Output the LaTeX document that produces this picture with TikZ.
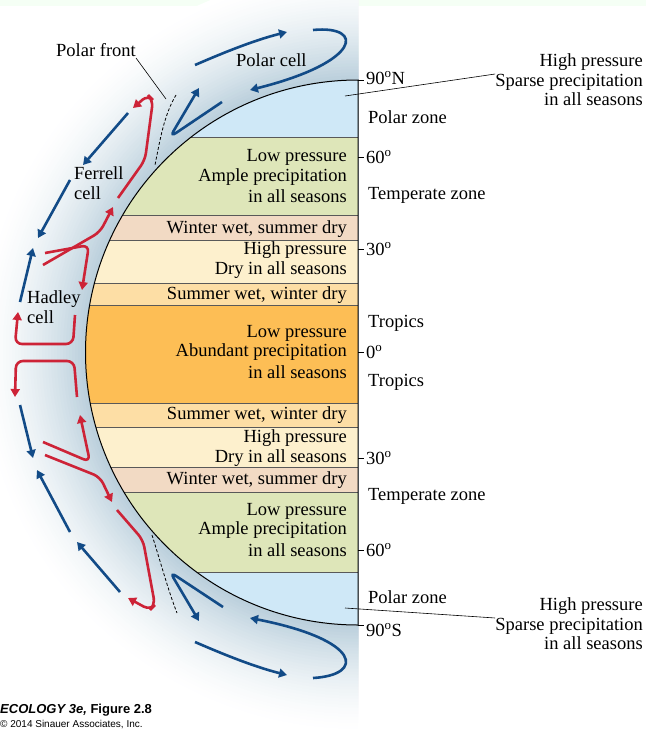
\documentclass[tikz,border=0pt]{standalone}
\usepackage{fontspec}
\setmainfont{Liberation Serif}
\setsansfont{Liberation Sans}
\usetikzlibrary{arrows.meta}
\definecolor{polarc}{RGB}{207,232,247}
\definecolor{tempc}{RGB}{222,230,185}
\definecolor{wintc}{RGB}{242,218,196}
\definecolor{highc}{RGB}{253,240,205}
\definecolor{sumc}{RGB}{253,222,165}
\definecolor{tropc}{RGB}{253,190,85}
\definecolor{atmoc}{RGB}{178,202,216}
\definecolor{windblue}{RGB}{18,75,135}
\definecolor{windred}{RGB}{205,35,55}
\tikzset{
  lbl/.style={font=\fontsize{18.5}{19.5}\selectfont, inner sep=0pt},
  band/.style={lbl, anchor=east, align=right},
  zone/.style={lbl, anchor=west},
  wind/.style={line width=2.6pt, rounded corners=7pt, -{Triangle[length=8pt,width=9pt]}},
  bwind/.style={wind, windblue},
  rwind/.style={wind, windred},
  front/.style={densely dashed, line width=0.8pt},
  tick/.style={line width=0.8pt}
}
\newcommand{\dg}{\textsuperscript{o}}
\begin{document}
\begin{tikzpicture}[x=1pt,y=-1pt]
\useasboundingbox (0,0) rectangle (646,731);
\fill[green!4] (0,0) rectangle (646,6);
% atmosphere
\begin{scope}
  \clip (0,0) rectangle (358,731);
  \foreach \i in {0,...,36}
    \fill[atmoc!\fpeval{(\i/36)^1.6*90}!white] (358,352.5) circle[radius=\fpeval{382-\i*3}];
  \fill[white] (358,352.5) circle[radius=272.5];
  \clip (358,352.5) circle[radius=272.5];
  \fill[polarc] (80,80) rectangle (358,137);
  \fill[tempc] (80,137) rectangle (358,215);
  \fill[wintc] (80,215) rectangle (358,240);
  \fill[highc] (80,240) rectangle (358,283);
  \fill[sumc] (80,283) rectangle (358,305);
  \fill[tropc] (80,305) rectangle (358,403);
  \fill[sumc] (80,403) rectangle (358,427);
  \fill[highc] (80,427) rectangle (358,467);
  \fill[wintc] (80,467) rectangle (358,492);
  \fill[tempc] (80,492) rectangle (358,572);
  \fill[polarc] (80,572) rectangle (358,625);
  \foreach \y in {137,215,240,283,305,403,427,467,492,572}
    \draw[gray!70!black, line width=0.5pt] (80,\y) -- (358,\y);
\end{scope}
\draw[line width=1pt] (358,80) arc[start angle=-90,end angle=-270,radius=272.5] -- cycle;
\foreach \y in {80,157,249,352,458,550,625}
  \draw[tick] (358,\y) -- (364,\y);

% band texts
\node[band] (n60a) at (347,157) {Low pressure};
\node[band] at (347,177) {Ample precipitation};
\node[band] at (347,196) {in all seasons};
\node[band] at (347,229) {Winter wet, summer dry};
\node[band] (n30a) at (347,250) {High pressure};
\node[band] at (347,270) {Dry in all seasons};
\node[band] at (347,295) {Summer wet, winter dry};
\node[band] at (347,333) {Low pressure};
\node[band] (n0) at (347,352) {Abundant precipitation};
\node[band] at (347,372) {in all seasons};
\node[band] at (347,415) {Summer wet, winter dry};
\node[band] at (347,438) {High pressure};
\node[band] (n30b) at (347,458) {Dry in all seasons};
\node[band] at (347,480) {Winter wet, summer dry};
\node[band] at (347,511) {Low pressure};
\node[band] at (347,530) {Ample precipitation};
\node[band] (n60b) at (347,550) {in all seasons};

% zones and latitudes
\node[zone] at (366,78) {90\dg N};
\node[zone] at (368,117) {Polar zone};
\node[zone] at (366,157) {60\dg};
\node[zone] at (368,195) {Temperate zone};
\node[zone] at (366,249) {30\dg};
\node[zone] at (368,323) {Tropics};
\node[zone] at (366,352) {0\dg};
\node[zone] at (368,382) {Tropics};
\node[zone] at (366,458) {30\dg};
\node[zone] at (368,496) {Temperate zone};
\node[zone] at (366,550) {60\dg};
\node[zone] at (368,597) {Polar zone};
\node[zone] at (366,630) {90\dg S};

% pressure notes
\node[lbl, anchor=east, align=right] (hpn) at (643,80) {High pressure\\Sparse precipitation\\in all seasons};
\node[lbl, anchor=east, align=right] (hps) at (643,624) {High pressure\\Sparse precipitation\\in all seasons};
\coordinate (pn) at (345,96);
\coordinate (ps) at (345,608);
\draw[line width=0.6pt] (pn) -- (hpn.west |- 0,74);
\draw[line width=0.6pt] (ps) -- (hps.west |- 0,618);

% cell labels
\node[lbl, anchor=west] (pf) at (56,50) {Polar front};
\node[lbl, anchor=west] at (236,60) {Polar cell};
\node[lbl, anchor=west, align=left] at (74,183) {Ferrell\\cell};
\node[lbl, anchor=west, align=left] at (27,307) {Hadley\\cell};
\coordinate (pft) at (166,99);
\draw[line width=0.6pt] (136,58) -- (pft);

% polar fronts
\draw[front] (176,95) .. controls (164,115) and (160,140) .. (155,165);
\draw[front] (152,535) .. controls (160,560) and (168,590) .. (177,613);

% northern winds
\draw[bwind] (195,65) .. controls (225,52) and (255,40) .. (287,32);
\draw[bwind] (313,30) .. controls (365,25) and (362,62) .. (250,90);
\draw[bwind] (222,102) -- (170,137) -- (199,88);
\draw[bwind] (128,113) -- (83,165);
\draw[bwind] (70,180) -- (38,238);
\draw[bwind] (20,302) -- (33,248);
\draw[rwind] (118,198) -- (145,160) -- (153,100) -- (148,95) -- (133,108);
\draw[rwind] (43,265) -- (100,232) -- (113,207);
\draw[rwind] (45,253) -- (89,245) -- (82,290);
\draw[rwind] (75,315) -- (73,344) -- (15,344) -- (18,312);

% southern winds
\draw[rwind] (77,397) -- (74,361) -- (16,361) -- (15,397);
\draw[rwind] (43,442) -- (90,462) -- (80,415);
\draw[rwind] (45,455) -- (100,477) -- (112,502);
\draw[rwind] (117,510) -- (143,540) -- (155,605) -- (150,610) -- (128,598);
\draw[bwind] (20,405) -- (33,458);
\draw[bwind] (70,532) -- (37,470);
\draw[bwind] (120,592) -- (77,542);
\draw[bwind] (223,607) -- (170,572) -- (199,621);
\draw[bwind] (195,642) .. controls (225,655) and (255,667) .. (287,675);
\draw[bwind] (313,678) .. controls (365,675) and (362,640) .. (250,618);

% caption
\node[anchor=west, inner sep=0pt, font=\sffamily\bfseries\itshape\fontsize{13}{15}\selectfont] at (0,710) {ECOLOGY 3e, \upshape Figure 2.8};
\node[anchor=west, inner sep=0pt, font=\sffamily\fontsize{10}{12}\selectfont] at (0,725) {\textcopyright\ 2014 Sinauer Associates, Inc.};
\end{tikzpicture}
\end{document}
